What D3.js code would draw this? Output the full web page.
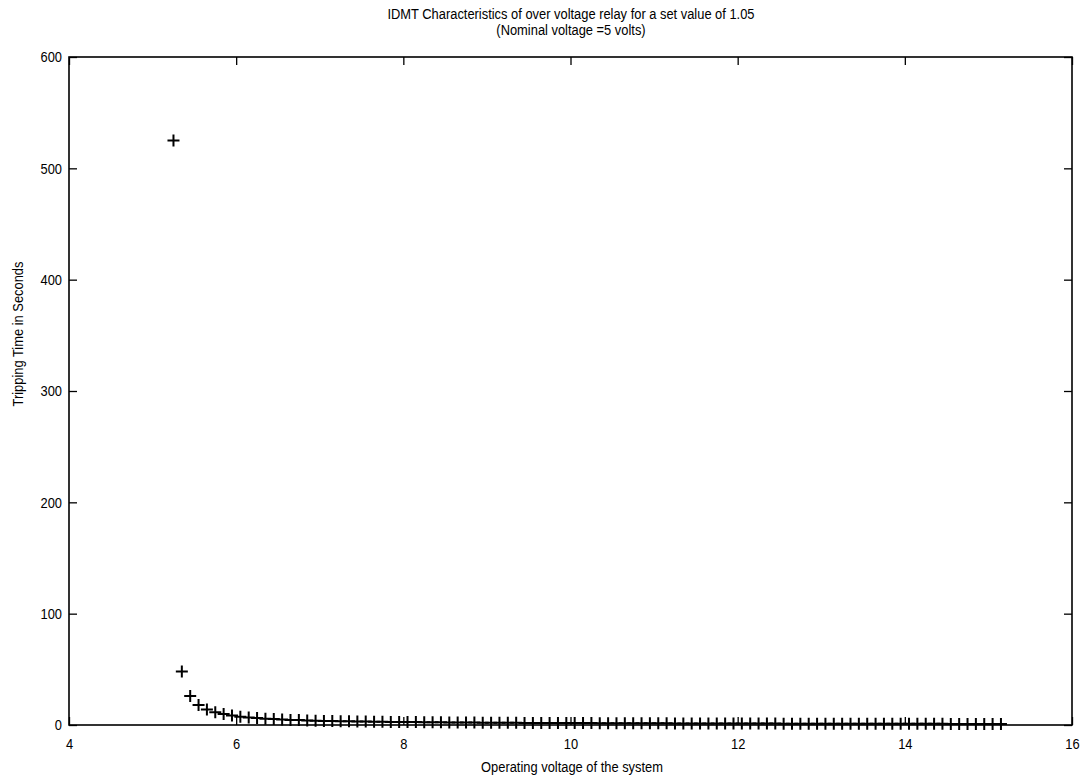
<!DOCTYPE html>
<html>
<head>
<meta charset="utf-8">
<script src="https://cdn.jsdelivr.net/npm/d3@7"></script>
<style>
  body { margin: 0; background: #fff; }
  svg { display: block; }
  text { font-family: "Liberation Sans", Arial, sans-serif; fill: #000; }
</style>
</head>
<body>
<svg id="chart" width="1088" height="780"></svg>
<script>
// operating voltage (V) and tripping time (s)
var voltage = [
  5.25, 5.35, 5.45, 5.55, 5.65, 5.75, 5.85, 5.95,
  6.05, 6.15, 6.25, 6.35, 6.45, 6.55, 6.65, 6.75, 6.85, 6.95,
  7.05, 7.15, 7.25, 7.35, 7.45, 7.55, 7.65, 7.75, 7.85, 7.95,
  8.05, 8.15, 8.25, 8.35, 8.45, 8.55, 8.65, 8.75, 8.85, 8.95,
  9.05, 9.15, 9.25, 9.35, 9.45, 9.55, 9.65, 9.75, 9.85, 9.95,
  10.05, 10.15, 10.25, 10.35, 10.45, 10.55, 10.65, 10.75, 10.85, 10.95,
  11.05, 11.15, 11.25, 11.35, 11.45, 11.55, 11.65, 11.75, 11.85, 11.95,
  12.05, 12.15, 12.25, 12.35, 12.45, 12.55, 12.65, 12.75, 12.85, 12.95,
  13.05, 13.15, 13.25, 13.35, 13.45, 13.55, 13.65, 13.75, 13.85, 13.95,
  14.05, 14.15, 14.25, 14.35, 14.45, 14.55, 14.65, 14.75, 14.85, 14.95,
  15.05, 15.15
];
var tripTime = [
  525, 48, 26, 18, 14, 11.5, 9.8, 8.5,
  7.5, 6.8, 6.2, 5.7, 5.3, 4.9, 4.6, 4.4, 4.1, 3.9,
  3.7, 3.6, 3.4, 3.3, 3.2, 3.1, 3.0, 2.9, 2.8, 2.7,
  2.6, 2.6, 2.5, 2.4, 2.4, 2.3, 2.3, 2.2, 2.2, 2.1,
  2.1, 2.0, 2.0, 2.0, 1.9, 1.9, 1.9, 1.8, 1.8, 1.8,
  1.7, 1.7, 1.7, 1.6, 1.6, 1.6, 1.6, 1.5, 1.5, 1.5,
  1.5, 1.5, 1.4, 1.4, 1.4, 1.4, 1.4, 1.4, 1.3, 1.3,
  1.3, 1.3, 1.3, 1.3, 1.3, 1.2, 1.2, 1.2, 1.2, 1.2,
  1.2, 1.2, 1.2, 1.2, 1.1, 1.1, 1.1, 1.1, 1.1, 1.1,
  1.1, 1.1, 1.1, 1.1, 1.1, 1.0, 1.0, 1.0, 1.0, 1.0,
  1.0, 1.0
];
var xTicks = [4, 6, 8, 10, 12, 14, 16];
var yTicks = [0, 100, 200, 300, 400, 500, 600];
var titleLines = [
  "IDMT Characteristics of over voltage relay for a set value of 1.05",
  "(Nominal voltage =5 volts)"
];

var svg = d3.select("#chart"),
    MARGINS = { top: 57, right: 16, bottom: 55, left: 69 },
    WIDTH = 1088,
    HEIGHT = 780,
    FONT = 15,
    SX = 0.86,   // squeeze glyphs sideways, the original font is narrow
    x = d3.scaleLinear().domain([4, 16]).range([MARGINS.left, WIDTH - MARGINS.right]),
    y = d3.scaleLinear().domain([0, 600]).range([HEIGHT - MARGINS.bottom, MARGINS.top]);

var TICK = 8;

// bottom axis with labels, ticks pointing inward
svg.append("g")
    .attr("transform", "translate(0," + y(0) + ")")
    .call(d3.axisBottom(x).tickValues(xTicks).tickSizeInner(-TICK).tickSizeOuter(0).tickPadding(13))
    .call(g => g.select(".domain").remove());
// top axis (ticks only)
svg.append("g")
    .attr("transform", "translate(0," + y(600) + ")")
    .call(d3.axisTop(x).tickValues(xTicks).tickSizeInner(-TICK).tickSizeOuter(0).tickFormat(""))
    .call(g => g.select(".domain").remove());
// left axis with labels
var yAxisG = svg.append("g")
    .attr("transform", "translate(" + x(4) + ",0)")
    .call(d3.axisLeft(y).tickValues(yTicks).tickSizeInner(-TICK).tickSizeOuter(0).tickPadding(7))
    .call(g => g.select(".domain").remove());
// right axis (ticks only)
svg.append("g")
    .attr("transform", "translate(" + x(16) + ",0)")
    .call(d3.axisRight(y).tickValues(yTicks).tickSizeInner(-TICK).tickSizeOuter(0).tickFormat(""))
    .call(g => g.select(".domain").remove());

svg.selectAll(".tick line").attr("stroke", "#000").attr("stroke-width", 1.3);
svg.selectAll(".tick text")
    .attr("font-size", FONT)
    .attr("font-family", "Liberation Sans, Arial, sans-serif");
// y labels: squeeze around their right edge
yAxisG.selectAll(".tick text")
    .attr("transform", "translate(-7,0) scale(" + SX + ",1)")
    .attr("x", 0);
svg.selectAll(".tick text").filter(function() { return !this.getAttribute("transform"); })
    .attr("transform", "scale(" + SX + ",1)");

// box
svg.append("rect")
    .attr("x", x(4))
    .attr("y", y(600))
    .attr("width", x(16) - x(4))
    .attr("height", y(0) - y(600))
    .attr("fill", "none")
    .attr("stroke", "#000")
    .attr("stroke-width", 1.6);

// '+' markers
var M = 6;
var pts = svg.append("g").selectAll("g")
    .data(voltage.map((v, i) => ({ v: v, t: tripTime[i] })))
    .join("g")
    .attr("transform", d => "translate(" + x(d.v) + "," + y(d.t) + ")");
pts.append("path")
    .attr("d", "M" + (-M) + ",0H" + M + "M0," + (-M) + "V" + M)
    .attr("stroke", "#000")
    .attr("stroke-width", 2)
    .attr("fill", "none");

// title
svg.append("g").selectAll("text")
    .data(titleLines)
    .join("text")
    .attr("transform", (d, i) => "translate(571," + (19 + i * 16) + ") scale(" + SX + ",1)")
    .attr("text-anchor", "middle")
    .attr("font-size", FONT)
    .text(d => d);

// axis labels
svg.append("text")
    .attr("transform", "translate(572,772) scale(" + SX + ",1)")
    .attr("text-anchor", "middle")
    .attr("font-size", FONT)
    .text("Operating voltage of the system");

svg.append("text")
    .attr("transform", "translate(23,334) rotate(-90) scale(" + SX + ",1)")
    .attr("text-anchor", "middle")
    .attr("font-size", FONT)
    .text("Tripping Time in Seconds");
</script>
</body>
</html>
